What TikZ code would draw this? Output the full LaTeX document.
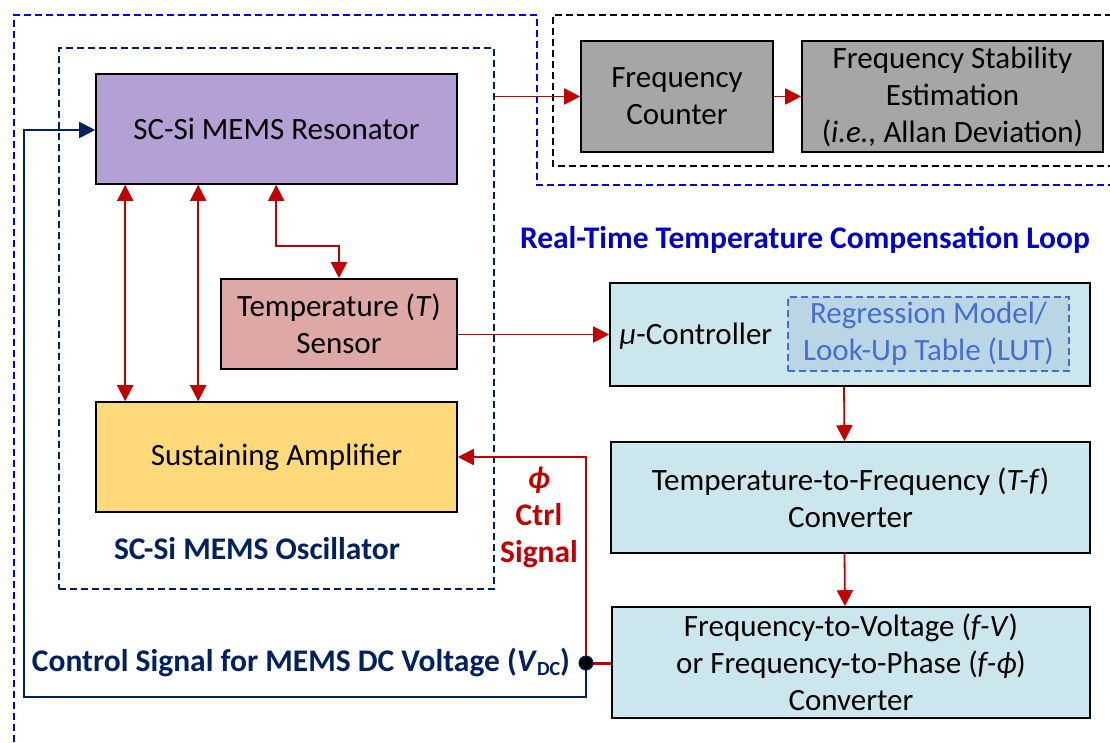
\documentclass[tikz,border=0pt]{standalone}
\usepackage{fontspec}
\setmainfont{Carlito}
\usetikzlibrary{arrows.meta,calc}
\definecolor{resc}{RGB}{181,160,214}
\definecolor{sensc}{RGB}{222,168,166}
\definecolor{ampc}{RGB}{255,217,122}
\definecolor{grayc}{RGB}{166,166,166}
\definecolor{bluec}{RGB}{203,230,237}
\definecolor{lutc}{RGB}{186,214,228}
\definecolor{luttext}{RGB}{70,110,210}
\definecolor{redc}{RGB}{192,0,0}
\definecolor{navyc}{RGB}{0,32,96}
\definecolor{outerc}{RGB}{0,0,225}
\definecolor{titlec}{RGB}{0,0,200}
\begin{document}
\begin{tikzpicture}[x=1pt,y=-1pt,
  box/.style={draw=black,line width=1.6pt,align=center,inner sep=0pt,
    font=\fontsize{31}{37}\selectfont},
  redline/.style={draw=redc,line width=1.8pt},
  redarr/.style={redline,-{Triangle[length=16pt,width=16pt]}},
  redboth/.style={redline,{Triangle[length=16pt,width=16pt]}-{Triangle[length=16pt,width=16pt]}},
  navyarr/.style={draw=navyc,line width=1.8pt,-{Triangle[length=16pt,width=16pt]}},
  dashpat/.style={dash pattern=on 7pt off 4pt},
  lbl/.style={font=\fontsize{31.5}{37}\selectfont\bfseries,align=center,inner sep=0pt}
]
\useasboundingbox (0,0) rectangle (1110,742);

% outer blue dashed boundary
\draw[outerc,line width=1.6pt,dashpat] (14,742) -- (14,15) -- (537,15) -- (537,185) -- (1112,185);
% black dashed box for measurement
\draw[black,line width=1.4pt,dashpat] (1112,15) -- (553,15) -- (553,166) -- (1112,166);
% oscillator dashed box
\node[draw=navyc,line width=1.3pt,dashpat,minimum width=435pt,minimum height=541pt,inner sep=0pt] (osc) at (276.5,318.5) {};

% blocks
\node[box,fill=resc,minimum width=361pt,minimum height=110pt] (res) at (276.5,129) {SC-Si MEMS Resonator};
\node[box,fill=sensc,minimum width=236pt,minimum height=90pt] (sens) at (339,324) {Temperature (\textit{T})\\Sensor};
\node[box,fill=ampc,minimum width=361pt,minimum height=110pt] (amp) at (276.5,457) {Sustaining Amplifier};
\node[box,fill=grayc,minimum width=192pt,minimum height=111pt] (cnt) at (677,96.5) {Frequency\\Counter};
\node[box,fill=grayc,minimum width=301pt,minimum height=111pt] (stab) at (952.5,96.5) {Frequency Stability\\Estimation\\(\textit{i.e.,} Allan Deviation)};
\node[box,fill=bluec,minimum width=480pt,minimum height=103pt] (uc) at (850,334.5) {};
\node[font=\fontsize{31}{37}\selectfont,inner sep=0pt] (uctext) at (696,336) {\textit{μ}-Controller};
\node[draw=luttext,fill=lutc,line width=1.3pt,dashpat,minimum width=281pt,minimum height=74pt,inner sep=0pt,align=center,text=luttext,font=\fontsize{31}{37}\selectfont] (lut) at (928.5,334) {Regression Model/\\Look-Up Table (LUT)};
\node[box,fill=bluec,minimum width=479pt,minimum height=111pt] (tf) at (850.5,497.5) {Temperature-to-Frequency (\textit{T-f})\\Converter};
\node[box,fill=bluec,minimum width=478pt,minimum height=111pt] (fv) at (851,662.5) {Frequency-to-Voltage (\textit{f-V})\\or Frequency-to-Phase (\textit{f-ϕ})\\Converter};

% labels
\node[lbl,text=navyc] (osclbl) at (257,549) {SC-Si MEMS Oscillator};
\node[lbl,text=titlec] (title) at (805,240) {Real-Time Temperature Compensation Loop};
\node[lbl,text=navyc] (vdclbl) at (301,662) {Control Signal for MEMS DC Voltage (\textit{V}\raisebox{-0.3ex}{\fontsize{20}{20}\selectfont DC})};
\node[lbl,text=redc] (philbl) at (539,517) {\textit{ϕ}\\Ctrl\\Signal};

% junction
\coordinate (dot) at (586,663);

% connectors
\draw[redboth] ([xshift=30pt]res.south west) -- ([xshift=30pt]amp.north west);
\draw[redboth] ([xshift=103pt]res.south west) -- ([xshift=103pt]amp.north west);
\draw[redboth] ([xshift=181pt]res.south west) -- ++(0,61) -| (sens.north);
\draw[redarr] (sens.east |- uc.west) -- (uc.west);
\draw[redarr] (osc.east |- cnt.west) -- (cnt.west);
\draw[redarr] (cnt.east) -- (stab.west);
\draw[redarr] ([xshift=-6pt]uc.south) -- ([xshift=-6pt]tf.north);
\draw[redarr] ([xshift=-6pt]tf.south) -- ([xshift=-6pt]fv.north);
\draw[redc,line width=3pt] (fv.west |- dot) -- (dot);
\draw[redarr] (dot) -- (dot |- amp.east) -- (amp.east);
\draw[navyarr] (dot) -- (dot |- 0,697) -- (24,697) -- (24,130) -- (res.west |- 0,130);
\fill[black,draw=navyc,line width=1pt] (dot) circle (7pt);
\end{tikzpicture}
\end{document}
